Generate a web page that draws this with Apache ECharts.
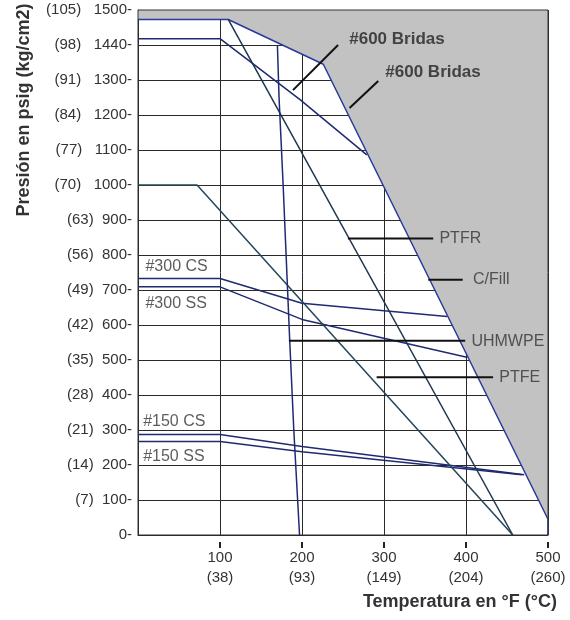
<!DOCTYPE html>
<html>
<head>
<meta charset="utf-8">
<script src="https://cdn.jsdelivr.net/npm/echarts@6/dist/echarts.min.js"></script>
<style>html,body{margin:0;padding:0;background:#fff}#c{width:570px;height:620px}</style>
</head>
<body>
<div id="c"></div>
<script>
// ---- tick labels ----
const yTickLabels = ['0-','(7)  100-','(14)  200-','(21)  300-','(28)  400-','(35)  500-','(42)  600-',
  '(49)  700-','(56)  800-','(63)  900-','(70)   1000-','(77)   1100-','(84)   1200-','(91)   1300-',
  '(98)   1440-','(105)   1500-'];
const xTickValues = [100, 200, 300, 400, 500];
const xTickLabels = ['', '100\n(38)', '200\n(93)', '300\n(149)', '400\n(204)', '500\n(260)'];
const xRange = [0, 500];
const yRange = [0, 1500];

// ---- curves [°F, psig axis position] ----
const flange600CS = [[0,1473],[110,1473],[226,1345],[500,45],[500,0]];   // upper envelope, C/Fill
const flange600SS = [[0,1418],[100,1418],[198,1243],[279,1086]];
const flange300CS = [[0,733],[100,733],[200,662],[377,624]];
const flange300SS = [[0,709],[100,709],[200,616],[401,508]];
const flange150CS = [[0,287],[100,287],[200,253],[471,172]];
const flange150SS = [[0,267],[100,267],[200,238],[468,172]];
const seatPTFR   = [[110,1473],[457,0]];
const seatPTFE   = [[0,1000],[72,1000],[457,0]];
const seatUHMWPE = [[170,1400],[172,1250],[177,1000],[185,557],[190,300],[197,0]];

// ---- callout leader lines ----
const leader600a  = [[189,1271],[244,1400]];
const leader600b  = [[258,1220],[293,1297]];
const leaderPTFR  = [[256,847],[360,847]];
const leaderCFill = [[354,729],[396,729]];
const leaderUHMW  = [[184,555],[399,555]];
const leaderPTFE  = [[291,451],[433,451]];

// ---- annotation texts ----
const labelNames = ['#300 CS','#300 SS','#150 CS','#150 SS','PTFR','C/Fill','UHMWPE','PTFE'];
const labelPos   = [[8.5,766],[8.5,660],[5.7,323],[5.7,223],[367,846],[408,729],[406,554],[440,451]];
const boldNames  = ['#600 Bridas','#600 Bridas'];
const boldPos    = [[257,1417],[301,1323]];

const FONT = '"Liberation Sans", Arial, sans-serif';
const NAVY = '#1f2a72';

function curve(data, color, z) {
  return { type:'line', data, symbol:'none', silent:true, z: z || 3,
    lineStyle:{ color: color || NAVY, width:1.5 } };
}
function leader(data) {
  return { type:'line', data, symbol:'none', silent:true, z:5,
    lineStyle:{ color:'#111', width:2 } };
}

const titles = [
  { type:'text', x:24, y:110, rotation:Math.PI/2,
    style:{ text:'Presión en psig (kg/cm2)', font:'bold 18px '+FONT, fill:'#333',
      textAlign:'center', textVerticalAlign:'middle' } },
  { type:'text', x:557, y:602,
    style:{ text:'Temperatura en °F (°C)', font:'bold 18px '+FONT, fill:'#333',
      textAlign:'right', textVerticalAlign:'middle' } }
];

const chart = echarts.init(document.getElementById('c'), null, {renderer:'canvas'});
chart.setOption({
  animation:false,
  backgroundColor:'#fff',
  grid:{ left:138, top:10, right:22, bottom:85, show:false },
  xAxis:{
    type:'value', min:xRange[0], max:xRange[1], interval:100,
    axisLine:{ show:true, lineStyle:{ color:'#222', width:1 } },
    axisTick:{ show:false },
    splitLine:{ show:true, lineStyle:{ color:'#2a2a2a', width:1 } },
    axisLabel:{ margin:13, fontSize:15, lineHeight:20, color:'#333', fontFamily:FONT,
      showMinLabel:true, showMaxLabel:true,
      formatter:v => xTickLabels[Math.round(v/100)] }
  },
  yAxis:{
    type:'value', min:yRange[0], max:yRange[1], interval:100,
    axisLine:{ show:true, lineStyle:{ color:'#222', width:1 } },
    axisTick:{ show:false },
    splitLine:{ show:true, lineStyle:{ color:'#2a2a2a', width:1 } },
    axisLabel:{ margin:6, fontSize:15, color:'#333', fontFamily:FONT,
      showMinLabel:true, showMaxLabel:true,
      formatter:v => yTickLabels[Math.round(v/100)] }
  },
  graphic: titles,
  series:[
    { type:'line', data:flange600CS, symbol:'none', silent:true, z:2,
      lineStyle:{ color:'#2a3a9a', width:1.5 },
      areaStyle:{ origin:'end', color:'#c2c2c2', opacity:1 } },
    { type:'line', silent:true, symbol:'none', clip:false, z:4,
      data:[[xRange[0],yRange[0]],[xRange[0],yRange[1]],[xRange[1],yRange[1]],[xRange[1],yRange[0]],[xRange[0],yRange[0]]],
      lineStyle:{ color:'#333', width:1 } },
    curve(flange600SS),
    curve(flange300CS),
    curve(flange300SS),
    curve(flange150CS),
    curve(flange150SS),
    curve(seatPTFR, '#1d3550'),
    curve(seatPTFE, '#24475a'),
    curve(seatUHMWPE),
    leader(leader600a), leader(leader600b), leader(leaderPTFR),
    leader(leaderCFill), leader(leaderUHMW), leader(leaderPTFE),
    { type:'scatter', silent:true, z:6, symbolSize:1, itemStyle:{ color:'rgba(0,0,0,0)' },
      data: labelNames.map((n,i) => ({ name:n, value:labelPos[i] })),
      label:{ show:true, position:'right', distance:0, formatter:p => p.name,
        fontSize:16, color:'#333', fontFamily:FONT } },
    { type:'scatter', silent:true, z:6, symbolSize:1, itemStyle:{ color:'rgba(0,0,0,0)' },
      data: boldNames.map((n,i) => ({ name:n, value:boldPos[i] })),
      label:{ show:true, position:'right', distance:0, formatter:p => p.name,
        fontSize:17, fontWeight:'bold', color:'#222', fontFamily:FONT } }
  ]
});

// small detached tick marks under the x axis, placed through the axis scale
const tickMarks = xTickValues.map(v => {
  const p = chart.convertToPixel({ gridIndex:0 }, [v, yRange[0]]);
  return { type:'rect', z:100, silent:true,
    shape:{ x:Math.round(p[0]) - 1, y:Math.round(p[1]) + 7, width:2, height:6 },
    style:{ fill:'#222' } };
});
chart.setOption({ graphic: titles.concat(tickMarks) });
</script>
</body>
</html>
